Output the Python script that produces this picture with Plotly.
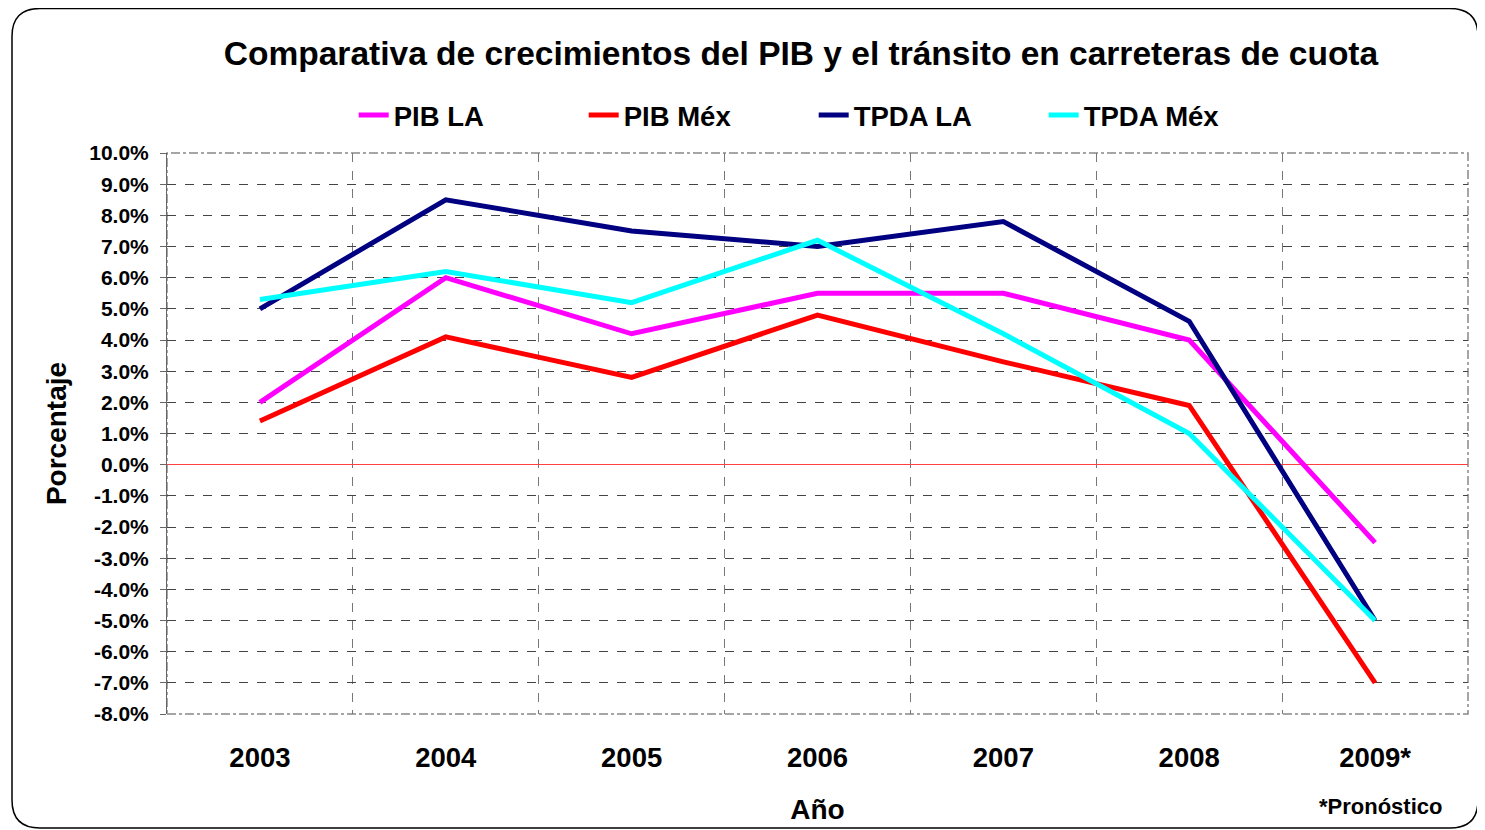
"""
Comparativa de crecimientos del PIB y el tránsito en carreteras de cuota.
"""
import plotly.graph_objects as go

years = ["2003", "2004", "2005", "2006", "2007", "2008", "2009*"]
pib_la = [2.0, 6.0, 4.2, 5.5, 5.5, 4.0, -2.5]
pib_mex = [1.4, 4.1, 2.8, 4.8, 3.3, 1.9, -7.0]
tpda_la = [5.0, 8.5, 7.5, 7.0, 7.8, 4.6, -5.0]
tpda_mex = [5.3, 6.2, 5.2, 7.2, 4.2, 1.0, -5.0]

y_ticks = list(range(-8, 11))
y_ticktext = [f"{v:.1f}%" for v in y_ticks]

FONT = "Arial, Liberation Sans, sans-serif"
OFF = 8  # page body margin
W, H = 1485 - OFF, 830 - OFF
L, T = 167 - OFF, 153 - OFF
R, B = W - (1468 - OFF), H - (714 - OFF)
PW, PH = W - L - R, H - T - B


def to_paper(x, y):
    # screen pixel of the reference -> paper coordinates
    return (x - OFF - L) / PW, (H - B - (y - OFF)) / PH


def rounded_rect(x0, y0, x1, y1, r):
    pts = [
        ("M", [(x0 + r, y0)]),
        ("L", [(x1 - r, y0)]),
        ("Q", [(x1, y0), (x1, y0 + r)]),
        ("L", [(x1, y1 - r)]),
        ("Q", [(x1, y1), (x1 - r, y1)]),
        ("L", [(x0 + r, y1)]),
        ("Q", [(x0, y1), (x0, y1 - r)]),
        ("L", [(x0, y0 + r)]),
        ("Q", [(x0, y0), (x0 + r, y0)]),
    ]
    path = ""
    for cmd, coords in pts:
        path += cmd + " ".join("%.5f,%.5f" % to_paper(cx, cy) for cx, cy in coords) + " "
    return path + "Z"


series = [
    ("PIB LA", pib_la, "#FF00FF"),
    ("PIB Méx", pib_mex, "#FF0000"),
    ("TPDA LA", tpda_la, "#000080"),
    ("TPDA Méx", tpda_mex, "#00FFFF"),
]

fig = go.Figure()
for name, vals, color in series:
    fig.add_trace(go.Scatter(x=years, y=vals, name="<b>" + name + "</b>", mode="lines",
                             line=dict(color=color, width=5)))

fig.update_layout(
    width=W, height=H,
    template="none",
    plot_bgcolor="white",
    paper_bgcolor="white",
    font=dict(family=FONT, color="black"),
    margin=dict(l=L, r=R, t=T, b=B),
    title=dict(text="<b>Comparativa de crecimientos del PIB y el tránsito en carreteras de cuota</b>",
               x=(801 - OFF) / W, xref="container", xanchor="center",
               y=1 - (53 - OFF) / H, yref="container", yanchor="middle",
               font=dict(size=33.5, family=FONT, color="black")),
    legend=dict(orientation="h", x=0.1435, xanchor="left", y=to_paper(0, 115)[1], yanchor="middle",
                font=dict(size=27.5, family=FONT, color="black"),
                entrywidth=185, entrywidthmode="pixels", bgcolor="rgba(0,0,0,0)"),
    showlegend=True,
)

fig.update_xaxes(
    type="category", range=[-0.5, 6.5], tickson="boundaries",
    showgrid=True, gridcolor="#777777", griddash="dash", gridwidth=1,
    ticks="inside", ticklen=4, tickcolor="#777777",
    showline=False, zeroline=False,
    tickfont=dict(size=27.5, family=FONT, color="black"),
    tickprefix="<b>", ticksuffix="</b>",
    ticklabelstandoff=24,
    title=dict(text="<b>Año</b>", font=dict(size=28, family=FONT, color="black"), standoff=27),
)

fig.update_yaxes(
    range=[-8, 10], tickvals=y_ticks, ticktext=["<b>" + t + "</b>" for t in y_ticktext],
    showgrid=True, gridcolor="#444444", griddash="dash", gridwidth=1,
    zeroline=True, zerolinecolor="#FF4040", zerolinewidth=1,
    showline=True, linecolor="#666666", linewidth=1,
    ticks="outside", ticklen=6, tickcolor="#666666",
    ticklabelstandoff=7,
    tickfont=dict(size=21, family=FONT, color="black"),
    title=dict(text="<b>Porcentaje</b>", font=dict(size=28, family=FONT, color="black"), standoff=14),
)

fig.add_annotation(text="<b>*Pronóstico</b>", xref="paper", yref="paper",
                   x=to_paper(1380, 0)[0], y=to_paper(0, 806)[1],
                   xanchor="center", yanchor="middle", showarrow=False,
                   font=dict(size=22, family=FONT, color="black"))

# dash-dot frame around the plot area
fig.add_shape(type="rect", xref="paper", yref="paper", x0=0, x1=1, y0=0, y1=1,
              line=dict(color="#888888", width=1.5, dash="dashdot"), layer="below")

fig.add_shape(type="path", xref="paper", yref="paper",
              path=rounded_rect(12, 8.5, 1478, 828, 28),
              line=dict(color="black", width=1.5), layer="below")

fig.write_html("out.html")
